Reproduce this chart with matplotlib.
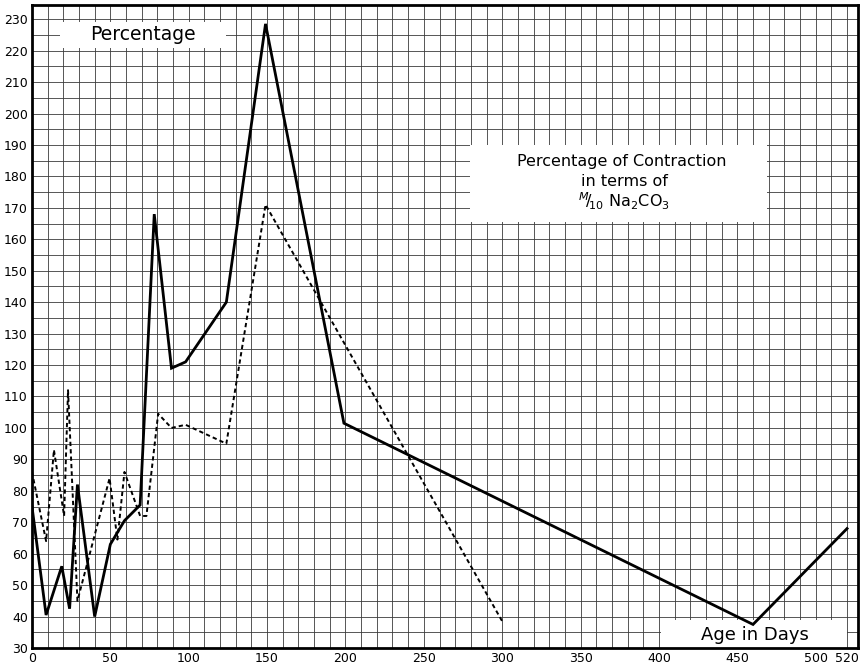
import numpy as np
import matplotlib.pyplot as plt
from matplotlib.patches import Rectangle

plt.rcParams['font.family'] = ['DejaVu Sans']
plt.rcParams['mathtext.fontset'] = 'dejavusans'

# Age in days / percentage of contraction (solid curve)
solid_days = [0, 9, 19, 24, 29, 40, 50, 59, 69, 78, 89, 98, 124, 149, 199, 460, 520]
solid_pct = [75, 40.5, 56, 42.5, 82, 40, 63, 70.5, 75.5, 168, 119, 121, 140, 228.5,
             101.5, 37.5, 68]

# dotted curve
dotted_days = [0, 9, 14, 20.5, 23, 29, 49.5, 54.5, 59, 69, 73, 80.5, 89, 98, 124,
               149, 300]
dotted_pct = [86, 64, 93, 72, 112, 45, 84, 64.5, 86, 72, 72, 104.5, 100, 101, 95,
              171, 38.5]

x_ticks = [0, 50, 100, 150, 200, 250, 300, 350, 400, 450, 500, 520]
y_ticks = list(range(30, 231, 10))

fig = plt.figure(figsize=(8.62, 6.70), dpi=100)
ax = fig.add_axes([0.0371, 0.0328, 0.9583, 0.9597])

ax.set_xlim(0, 527)
ax.set_ylim(30, 234.5)

# graph paper grid
for gx in range(0, 521, 10):
    ax.axvline(gx, color='#3a3a3a', lw=0.6, zorder=1)
for gy in range(30, 235, 5):
    ax.axhline(gy, color='#3a3a3a', lw=0.6, zorder=1)

# white label boxes
ax.add_patch(Rectangle((18, 220.8), 106, 8.4, facecolor='white', edgecolor='none',
                       zorder=2))
ax.add_patch(Rectangle((279.5, 165.5), 189.5, 24.5, facecolor='white',
                       edgecolor='none', zorder=2))
ax.add_patch(Rectangle((401, 30), 119, 8.9, facecolor='white', edgecolor='none',
                       zorder=2))

ax.plot(solid_days, solid_pct, color='black', lw=2.0, zorder=4,
        solid_joinstyle='miter')
ax.plot(dotted_days, dotted_pct, color='black', lw=1.4, zorder=3,
        linestyle=(0, (2.2, 1.6)))

ax.text(71, 225, 'Percentage', fontsize=13.5, ha='center', va='center', zorder=5)
ax.text(376, 184.8, 'Percentage of Contraction', fontsize=11.5, ha='center',
        va='center', zorder=5)
ax.text(378, 178.5, 'in terms of', fontsize=11.5, ha='center', va='center', zorder=5)
ax.text(378, 172.2, r'$^{M}\!/\!_{10}$ Na$_2$CO$_3$', fontsize=11.5, ha='center',
        va='center', zorder=5)
ax.text(461, 34.3, 'Age in Days', fontsize=13, ha='center', va='center', zorder=5)

ax.set_xticks(x_ticks)
ax.set_yticks(y_ticks)
ax.tick_params(length=0, labelsize=9, pad=3)
for sp in ax.spines.values():
    sp.set_linewidth(2)
    sp.set_zorder(6)

fig.savefig('out.png', dpi=100)
